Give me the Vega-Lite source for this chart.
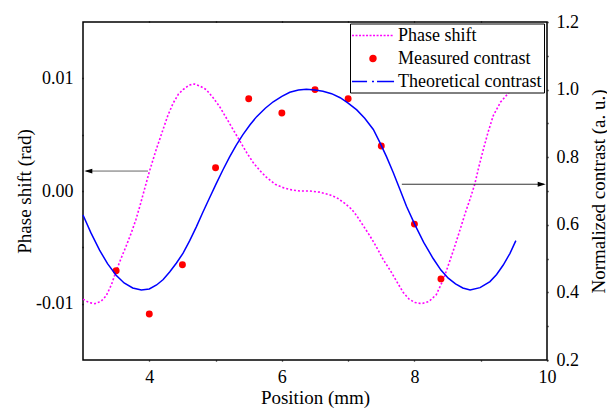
{
  "$schema": "https://vega.github.io/schema/vega-lite/v6.json",
  "width": 464,
  "height": 338,
  "autosize": "none",
  "padding": {"left": 83, "top": 22, "right": 60, "bottom": 50},
  "background": "white",
  "config": {
    "view": {"stroke": "black", "strokeWidth": 1.5},
    "font": "Liberation Serif, Times New Roman, serif",
    "axis": {
      "domain": false,
      "grid": false,
      "labelFont": "Liberation Serif, Times New Roman, serif",
      "labelFontSize": 18,
      "labelColor": "black",
      "titleFont": "Liberation Serif, Times New Roman, serif",
      "titleFontSize": 19,
      "titleFontWeight": "normal",
      "titleColor": "black",
      "tickColor": "black",
      "tickWidth": 1.3,
      "tickSize": 1,
      "labelFlush": false,
      "labelOverlap": false
    },
    "legend": {
      "orient": "none",
      "legendX": 267,
      "legendY": 1.5,
      "title": null,
      "strokeColor": "black",
      "fillColor": "white",
      "padding": 2,
      "rowPadding": 4,
      "labelFont": "Liberation Serif, Times New Roman, serif",
      "labelFontSize": 18,
      "labelColor": "black",
      "labelOffset": 26,
      "symbolSize": 324,
      "symbolStrokeWidth": 1.5
    }
  },
  "datasets": {
    "phase": [
      {"pos": 3.00, "phase": -0.0096}, {"pos": 3.09, "phase": -0.0099}, {"pos": 3.18, "phase": -0.0100},
      {"pos": 3.27, "phase": -0.0098}, {"pos": 3.35, "phase": -0.0093}, {"pos": 3.43, "phase": -0.0083},
      {"pos": 3.50, "phase": -0.0071}, {"pos": 3.58, "phase": -0.0059}, {"pos": 3.65, "phase": -0.0049},
      {"pos": 3.73, "phase": -0.0037}, {"pos": 3.80, "phase": -0.0025}, {"pos": 3.86, "phase": -0.0013},
      {"pos": 3.93, "phase": 0.0002}, {"pos": 4.00, "phase": 0.0017}, {"pos": 4.10, "phase": 0.0036},
      {"pos": 4.21, "phase": 0.0055}, {"pos": 4.28, "phase": 0.0067}, {"pos": 4.36, "phase": 0.0078},
      {"pos": 4.44, "phase": 0.0086}, {"pos": 4.51, "phase": 0.0090}, {"pos": 4.60, "phase": 0.0094},
      {"pos": 4.68, "phase": 0.0095}, {"pos": 4.77, "phase": 0.0093}, {"pos": 4.86, "phase": 0.0090},
      {"pos": 4.96, "phase": 0.0083}, {"pos": 5.06, "phase": 0.0075}, {"pos": 5.16, "phase": 0.0065},
      {"pos": 5.26, "phase": 0.0055}, {"pos": 5.37, "phase": 0.0044}, {"pos": 5.47, "phase": 0.0034},
      {"pos": 5.57, "phase": 0.0025}, {"pos": 5.67, "phase": 0.0018}, {"pos": 5.77, "phase": 0.0012},
      {"pos": 5.90, "phase": 0.0006}, {"pos": 6.02, "phase": 0.0003}, {"pos": 6.15, "phase": 0.0001},
      {"pos": 6.27, "phase": 0.0000}, {"pos": 6.42, "phase": 0.0000}, {"pos": 6.57, "phase": -0.0001},
      {"pos": 6.70, "phase": -0.0003}, {"pos": 6.83, "phase": -0.0006}, {"pos": 6.95, "phase": -0.0011},
      {"pos": 7.05, "phase": -0.0016}, {"pos": 7.13, "phase": -0.0022}, {"pos": 7.23, "phase": -0.0031},
      {"pos": 7.33, "phase": -0.0040}, {"pos": 7.43, "phase": -0.0050}, {"pos": 7.53, "phase": -0.0061},
      {"pos": 7.63, "phase": -0.0070}, {"pos": 7.70, "phase": -0.0077}, {"pos": 7.76, "phase": -0.0083},
      {"pos": 7.83, "phase": -0.0090}, {"pos": 7.92, "phase": -0.0096}, {"pos": 8.01, "phase": -0.0099},
      {"pos": 8.11, "phase": -0.0100}, {"pos": 8.22, "phase": -0.0098}, {"pos": 8.33, "phase": -0.0092},
      {"pos": 8.44, "phase": -0.0078}, {"pos": 8.54, "phase": -0.0061}, {"pos": 8.62, "phase": -0.0047},
      {"pos": 8.69, "phase": -0.0034}, {"pos": 8.77, "phase": -0.0019}, {"pos": 8.84, "phase": -0.0007},
      {"pos": 8.91, "phase": 0.0006}, {"pos": 8.97, "phase": 0.0021}, {"pos": 9.04, "phase": 0.0037},
      {"pos": 9.11, "phase": 0.0052}, {"pos": 9.19, "phase": 0.0067}, {"pos": 9.30, "phase": 0.0079},
      {"pos": 9.42, "phase": 0.0087}, {"pos": 9.50, "phase": 0.0091}
    ],
    "measured": [
      {"pos": 3.5, "contrast": 0.464}, {"pos": 4.0, "contrast": 0.336}, {"pos": 4.5, "contrast": 0.482},
      {"pos": 5.0, "contrast": 0.769}, {"pos": 5.5, "contrast": 0.973}, {"pos": 6.0, "contrast": 0.931},
      {"pos": 6.5, "contrast": 1.000}, {"pos": 7.0, "contrast": 0.973}, {"pos": 7.5, "contrast": 0.833},
      {"pos": 8.0, "contrast": 0.602}, {"pos": 8.4, "contrast": 0.440}
    ],
    "theory": [
      {"pos": 3.00, "contrast": 0.629}, {"pos": 3.12, "contrast": 0.576}, {"pos": 3.25, "contrast": 0.525},
      {"pos": 3.37, "contrast": 0.485}, {"pos": 3.50, "contrast": 0.451}, {"pos": 3.62, "contrast": 0.428},
      {"pos": 3.75, "contrast": 0.413}, {"pos": 3.88, "contrast": 0.407}, {"pos": 4.00, "contrast": 0.410},
      {"pos": 4.11, "contrast": 0.422}, {"pos": 4.21, "contrast": 0.438}, {"pos": 4.31, "contrast": 0.461},
      {"pos": 4.41, "contrast": 0.487}, {"pos": 4.51, "contrast": 0.516}, {"pos": 4.61, "contrast": 0.553},
      {"pos": 4.71, "contrast": 0.594}, {"pos": 4.81, "contrast": 0.638}, {"pos": 4.91, "contrast": 0.680},
      {"pos": 5.01, "contrast": 0.722}, {"pos": 5.11, "contrast": 0.762}, {"pos": 5.21, "contrast": 0.800},
      {"pos": 5.31, "contrast": 0.835}, {"pos": 5.41, "contrast": 0.866}, {"pos": 5.52, "contrast": 0.896},
      {"pos": 5.62, "contrast": 0.920}, {"pos": 5.75, "contrast": 0.945}, {"pos": 5.87, "contrast": 0.964},
      {"pos": 6.00, "contrast": 0.980}, {"pos": 6.12, "contrast": 0.992}, {"pos": 6.25, "contrast": 0.999},
      {"pos": 6.37, "contrast": 1.001}, {"pos": 6.50, "contrast": 0.999}, {"pos": 6.62, "contrast": 0.995},
      {"pos": 6.75, "contrast": 0.988}, {"pos": 6.88, "contrast": 0.976}, {"pos": 7.00, "contrast": 0.960},
      {"pos": 7.13, "contrast": 0.940}, {"pos": 7.25, "contrast": 0.915}, {"pos": 7.38, "contrast": 0.882},
      {"pos": 7.48, "contrast": 0.843}, {"pos": 7.58, "contrast": 0.801}, {"pos": 7.68, "contrast": 0.755},
      {"pos": 7.78, "contrast": 0.705}, {"pos": 7.88, "contrast": 0.655}, {"pos": 8.01, "contrast": 0.599},
      {"pos": 8.14, "contrast": 0.548}, {"pos": 8.28, "contrast": 0.501}, {"pos": 8.40, "contrast": 0.466},
      {"pos": 8.51, "contrast": 0.442}, {"pos": 8.62, "contrast": 0.425}, {"pos": 8.73, "contrast": 0.413},
      {"pos": 8.84, "contrast": 0.407}, {"pos": 8.99, "contrast": 0.414}, {"pos": 9.14, "contrast": 0.432},
      {"pos": 9.24, "contrast": 0.453}, {"pos": 9.34, "contrast": 0.481}, {"pos": 9.44, "contrast": 0.515},
      {"pos": 9.53, "contrast": 0.553}
    ],
    "arrows": [
      {"pos": 3.05, "pos2": 3.98, "phase": 0.00177, "tone": "left"},
      {"pos": 7.81, "pos2": 9.95, "phase": 0.0006, "tone": "right"}
    ],
    "heads": [
      {"pos": 3.08, "phase": 0.00177, "dir": "left"},
      {"pos": 9.92, "phase": 0.0006, "dir": "right"}
    ]
  },
  "layer": [
    {
      "encoding": {
        "x": {
          "field": "pos", "type": "quantitative",
          "scale": {"domain": [3, 10], "nice": false, "zero": false},
          "axis": {
            "orient": "bottom",
            "values": [4, 5, 6, 7, 8, 9, 10],
            "labelExpr": "datum.value % 2 == 0 ? format(datum.value, 'd') : ''",
            "labelPadding": 7,
            "title": "Position (mm)",
            "titleY": 43,
            "titleBaseline": "alphabetic",
            "encode": {"ticks": {"update": {"y2": {"signal": "datum.value % 2 == 1 ? -4 : -7"}}}}
          }
        },
        "y": {
          "field": "phase", "type": "quantitative",
          "scale": {"domain": [-0.015, 0.015], "nice": false, "zero": false},
          "axis": {
            "orient": "left",
            "values": [-0.01, -0.005, 0, 0.005, 0.01],
            "labelExpr": "abs(abs(datum.value) - 0.005) < 0.0001 ? '' : (datum.value < 0 ? '-' + format(-datum.value, '.2f') : format(datum.value, '.2f'))",
            "labelPadding": 9,
            "title": "Phase shift (rad)",
            "titleAngle": 270,
            "titleX": -53,
            "titleBaseline": "alphabetic",
            "encode": {"ticks": {"update": {
              "x": {"signal": "abs(abs(datum.value) - 0.005) < 0.0001 ? 3 : 6"},
              "x2": {"signal": "abs(abs(datum.value) - 0.005) < 0.0001 ? -5 : -7"}
            }}}
          }
        }
      },
      "layer": [
        {
          "data": {"name": "phase"},
          "mark": {"type": "line", "strokeDash": [2, 2], "strokeWidth": 1.6},
          "encoding": {
            "color": {
              "datum": "Phase shift",
              "type": "nominal",
              "scale": {"domain": ["Phase shift", "Measured contrast", "Theoretical contrast"], "range": ["#FF00FF", "#FF0000", "#0000FF"]},
              "legend": {
                "title": null,
                "encode": {
                  "symbols": {
                    "update": {
                      "shape": {"signal": "datum.value == 'Measured contrast' ? 'M1.55,0A0.33,0.33,0,1,1,0.89,0A0.33,0.33,0,1,1,1.55,0Z' : (datum.value == 'Theoretical contrast' ? 'M-1.11,0H0.56M1.11,0H1.33M1.67,0H3.56' : 'M-1.11,0h0.22m0.17,0h0.22m0.17,0h0.22m0.17,0h0.22m0.17,0h0.22m0.17,0h0.22m0.17,0h0.22m0.17,0h0.22m0.17,0h0.22m0.17,0h0.22m0.17,0h0.22m0.17,0h0.22')"},
                      "fill": {"signal": "datum.value == 'Measured contrast' ? '#FF0000' : 'transparent'"},
                      "stroke": {"signal": "datum.value == 'Measured contrast' ? 'transparent' : (datum.value == 'Phase shift' ? '#FF00FF' : '#0000FF')"},
                      "opacity": {"value": 1}
                    }
                  }
                }
              }
            }
          }
        },
        {
          "data": {"name": "arrows"},
          "mark": {"type": "rule", "strokeWidth": 1},
          "encoding": {
            "x2": {"field": "pos2"},
            "stroke": {"field": "tone", "type": "nominal", "scale": {"domain": ["left", "right"], "range": ["#666666", "#333333"]}, "legend": null}
          }
        },
        {
          "data": {"name": "heads"},
          "mark": {"type": "point", "filled": true, "color": "black", "opacity": 1, "size": 64, "strokeWidth": 0},
          "encoding": {
            "shape": {"field": "dir", "type": "nominal", "scale": {"domain": ["left", "right"], "range": ["M-1,0L1,-0.6L1,0.6Z", "M1,0L-1,-0.6L-1,0.6Z"]}, "legend": null}
          }
        }
      ]
    },
    {
      "encoding": {
        "x": {
          "field": "pos", "type": "quantitative",
          "scale": {"domain": [3, 10], "nice": false, "zero": false},
          "axis": {
            "orient": "top", "values": [4, 5, 6, 7, 8, 9], "labels": false, "title": null,
            "encode": {"ticks": {"update": {"y2": {"signal": "datum.value % 2 == 1 ? 3 : 5"}}}}
          }
        },
        "y": {
          "field": "contrast", "type": "quantitative",
          "scale": {"domain": [0.2, 1.2], "nice": false, "zero": false},
          "axis": {
            "orient": "right",
            "values": [0.2, 0.3, 0.4, 0.5, 0.6, 0.7, 0.8, 0.9, 1.0, 1.1, 1.2],
            "labelExpr": "round(datum.value * 10) % 2 == 0 ? format(datum.value, '.1f') : ''",
            "labelPadding": 8,
            "title": "Normalized contrast (a. u.)",
            "titleAngle": 270,
            "titleX": 57,
            "titleBaseline": "alphabetic",
            "encode": {"ticks": {"update": {"x2": {"signal": "round(datum.value * 10) % 2 == 0 ? -7 : -4"}}}}
          }
        }
      },
      "layer": [
        {
          "data": {"name": "measured"},
          "mark": {"type": "point", "filled": true, "size": 48, "opacity": 1},
          "encoding": {
            "color": {
              "datum": "Measured contrast",
              "type": "nominal",
              "scale": {"domain": ["Phase shift", "Measured contrast", "Theoretical contrast"], "range": ["#FF00FF", "#FF0000", "#0000FF"]},
              "legend": null
            }
          }
        },
        {
          "data": {"name": "theory"},
          "mark": {"type": "line", "strokeWidth": 1.5},
          "encoding": {
            "color": {
              "datum": "Theoretical contrast",
              "type": "nominal",
              "scale": {"domain": ["Phase shift", "Measured contrast", "Theoretical contrast"], "range": ["#FF00FF", "#FF0000", "#0000FF"]},
              "legend": null
            }
          }
        }
      ]
    }
  ],
  "resolve": {"scale": {"y": "independent"}, "axis": {"x": "independent"}}
}
